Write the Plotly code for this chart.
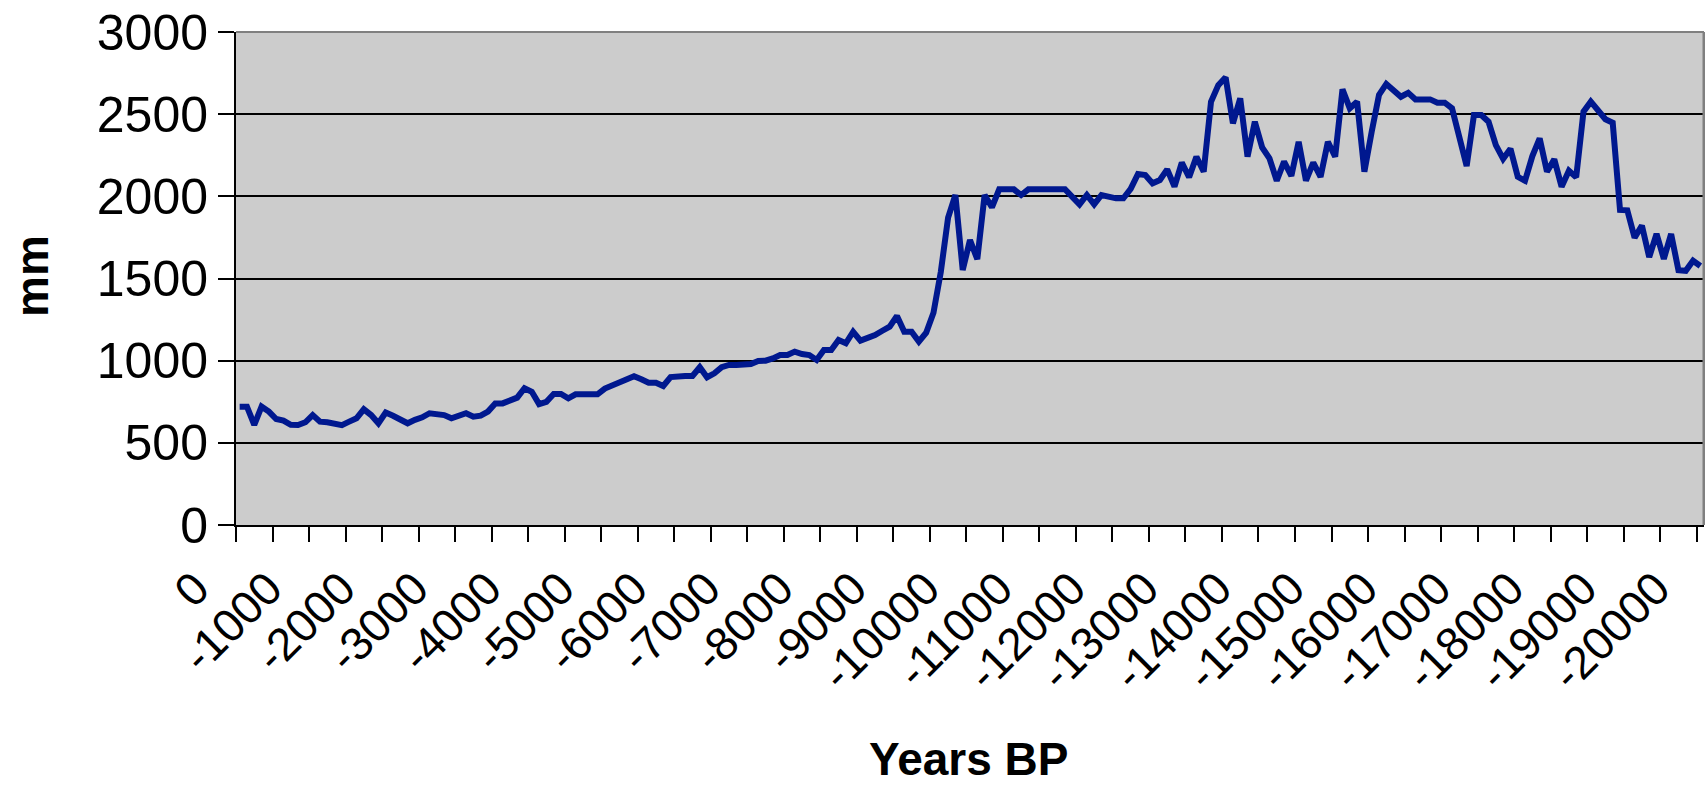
import plotly.graph_objects as go

# Categories: years BP, one every 100 years (0 ... -20000)
years = list(range(0, -20001, -100))

# Precipitation (mm), one value per category
mm = [
    720, 720, 610, 720, 690, 645, 635, 610, 608, 625,
    669, 629, 625, 615, 608, 629, 649, 704, 669, 619,
    684, 665, 645, 619, 640, 655, 680, 670, 669, 649,
    665, 680, 659, 665, 690, 740, 740, 761, 775, 832,
    811, 736, 750, 797, 797, 771, 795, 795, 795, 795,
    830, 848, 865, 884, 905, 887, 866, 866, 846, 900,
    907, 907, 907, 960, 899, 923, 960, 974, 974, 974,
    980, 998, 1000, 1014, 1034, 1034, 1055, 1040, 1034, 1004,
    1065, 1065, 1126, 1106, 1176, 1122, 1136, 1156, 1182, 1207,
    1272, 1176, 1176, 1116, 1170, 1292, 1540, 1870, 2008, 1552,
    1734, 1617, 2008, 1933, 2043, 2043, 2043, 2008, 2043, 2043,
    2043, 2043, 2043, 2043, 1997, 1951, 2008, 1951, 2008, 1995,
    1988, 1988, 2045, 2136, 2130, 2079, 2099, 2164, 2059, 2205,
    2116, 2241, 2150, 2576, 2677, 2724, 2444, 2596, 2241, 2454,
    2298, 2231, 2095, 2211, 2125, 2332, 2095, 2205, 2119, 2332,
    2241, 2651, 2536, 2576, 2150, 2393, 2617, 2684, 2650, 2606,
    2630, 2590, 2590, 2590, 2570, 2570, 2536, 2373, 2184, 2495,
    2495, 2454, 2312, 2228, 2290, 2119, 2095, 2245, 2353, 2150,
    2225, 2059, 2156, 2116, 2515, 2576, 2525, 2469, 2448, 1917,
    1915, 1748, 1822, 1630, 1771, 1620, 1771, 1550, 1547, 1608,
    1576,
]

# Axis labels
x_tickvals = [0, -1000, -2000, -3000, -4000, -5000, -6000, -7000, -8000, -9000,
              -10000, -11000, -12000, -13000, -14000, -15000, -16000, -17000,
              -18000, -19000, -20000]
x_ticktext = ["0", "-1000", "-2000", "-3000", "-4000", "-5000", "-6000", "-7000",
              "-8000", "-9000", "-10000", "-11000", "-12000", "-13000", "-14000",
              "-15000", "-16000", "-17000", "-18000", "-19000", "-20000"]
y_tickvals = [0, 500, 1000, 1500, 2000, 2500, 3000]

FONT = "Liberation Sans, Arial, sans-serif"

W, H = 1705, 785
L, T, R, B = 236, 32, 1, 260
PW = W - L - R
PH = H - T - B


def px_x(page_x):
    return (page_x - L) / PW


def px_y(page_y):
    return (H - B - page_y) / PH


fig = go.Figure()
fig.add_trace(go.Scatter(
    x=years, y=mm, mode="lines",
    line=dict(color="#00188f", width=6),
    showlegend=False,
))

fig.update_layout(
    width=W, height=H,
    margin=dict(l=L, r=R, t=T, b=B, autoexpand=False),
    paper_bgcolor="white",
    plot_bgcolor="#cccccc",
    font=dict(family=FONT, color="black", size=46),
    xaxis=dict(
        range=[50, -20050],
        automargin=False,
        showgrid=False, zeroline=False,
        showline=True, linecolor="black", linewidth=2,
        tickmode="array", tickvals=x_tickvals, ticktext=x_ticktext,
        ticks="", tickangle=-45,
        tickfont=dict(family=FONT, size=46, color="black"),
        ticklabelstandoff=16,
        ticklabelshift=44,
        minor=dict(ticks="outside", tick0=50, dtick=500, ticklen=15,
                   tickwidth=2, tickcolor="black", showgrid=False),
    ),
    yaxis=dict(
        range=[0, 3000],
        automargin=False,
        tickmode="array", tickvals=y_tickvals,
        showgrid=True, gridcolor="black", gridwidth=2,
        zeroline=False,
        showline=True, linecolor="black", linewidth=2,
        ticks="outside", ticklen=16, tickwidth=2, tickcolor="black",
        tickfont=dict(family=FONT, size=50, color="black"),
    ),
    annotations=[
        dict(text="<b>mm</b>", textangle=-90, xref="paper", yref="paper",
             x=px_x(32), y=px_y(276), xanchor="center", yanchor="middle",
             showarrow=False, font=dict(family=FONT, size=46, color="black")),
        dict(text="<b>Years BP</b>", xref="paper", yref="paper",
             x=px_x(968), y=px_y(759), xanchor="center", yanchor="middle",
             showarrow=False, font=dict(family=FONT, size=46, color="black")),
    ],
    shapes=[
        dict(type="line", xref="x domain", yref="y domain", x0=0, x1=1, y0=1, y1=1,
             line=dict(color="#808080", width=2)),
        dict(type="line", xref="x domain", yref="y domain", x0=1, x1=1, y0=0, y1=1,
             line=dict(color="#808080", width=3)),
    ],
)

fig.write_html("out.html", config={"displayModeBar": False},
               post_script="document.body.style.margin='0px';")
